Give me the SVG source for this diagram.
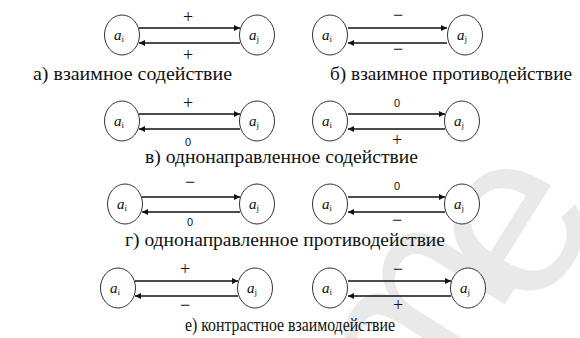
<svg xmlns="http://www.w3.org/2000/svg" width="580" height="338" viewBox="0 0 580 338">
  <style>
    .node { fill: #fff; stroke: #333; stroke-width: 1; }
    .var { font-style: italic; font-size: 15px; fill: #111; }
    .sub { font-style: normal; font-size: 9px; }
    .edge { stroke: #111; stroke-width: 1.4; fill: none; }
    .sign { font-size: 18px; fill: #111; text-anchor: middle; }
    .zero { font-size: 11px; fill: #111; text-anchor: middle; }
    .caption { font-size: 18px; fill: #111; }
    .mark { font-size: 235px; fill: #e9e9e9; }
  </style>
  <defs>
    <marker id="head" viewBox="0 0 10 10" refX="10" refY="5" markerWidth="6" markerHeight="6" markerUnits="userSpaceOnUse" orient="auto">
      <path d="M0,0 L10,5 L0,10 z" fill="#111"/>
    </marker>
  </defs>
  <rect width="580" height="338" fill="#fff"/>

  <!-- background mark -->
  <g id="mark" font-family="'Liberation Sans', sans-serif">
    <text class="mark" x="0" y="0" transform="translate(420,440) rotate(-58)">m</text>
    <text class="mark" x="0" y="0" transform="translate(536,318) rotate(-58)">e</text>
  </g>

  <!-- connectors -->
  <g id="connectors" font-family="'Times New Roman', 'Liberation Serif', 'DejaVu Serif', serif">
    <g id="pair-a">
      <line class="edge" x1="139" y1="28" x2="240" y2="28" marker-end="url(#head)"/>
      <line class="edge" x1="240" y1="43" x2="139" y2="43" marker-end="url(#head)"/>
      <text class="sign" x="188" y="23">+</text>
      <text class="sign" x="188" y="61">+</text>
    </g>
    <g id="pair-b">
      <line class="edge" x1="348" y1="28" x2="447" y2="28" marker-end="url(#head)"/>
      <line class="edge" x1="447" y1="43" x2="348" y2="43" marker-end="url(#head)"/>
      <text class="sign" x="398" y="21">−</text>
      <text class="sign" x="398" y="55">−</text>
    </g>
    <g id="pair-c">
      <line class="edge" x1="139" y1="114" x2="240" y2="114" marker-end="url(#head)"/>
      <line class="edge" x1="240" y1="129" x2="139" y2="129" marker-end="url(#head)"/>
      <text class="sign" x="188" y="109">+</text>
      <text class="zero" font-family="'Liberation Sans', sans-serif" x="188" y="146">0</text>
    </g>
    <g id="pair-d">
      <line class="edge" x1="348" y1="114" x2="445" y2="114" marker-end="url(#head)"/>
      <line class="edge" x1="445" y1="129" x2="348" y2="129" marker-end="url(#head)"/>
      <text class="zero" font-family="'Liberation Sans', sans-serif" x="397" y="107">0</text>
      <text class="sign" x="397" y="146">+</text>
    </g>
    <g id="pair-e">
      <line class="edge" x1="142" y1="197" x2="240" y2="197" marker-end="url(#head)"/>
      <line class="edge" x1="240" y1="212" x2="142" y2="212" marker-end="url(#head)"/>
      <text class="sign" x="190" y="188">−</text>
      <text class="zero" font-family="'Liberation Sans', sans-serif" x="190" y="226">0</text>
    </g>
    <g id="pair-f">
      <line class="edge" x1="348" y1="197" x2="445" y2="197" marker-end="url(#head)"/>
      <line class="edge" x1="445" y1="212" x2="348" y2="212" marker-end="url(#head)"/>
      <text class="zero" font-family="'Liberation Sans', sans-serif" x="397" y="190">0</text>
      <text class="sign" x="397" y="226">−</text>
    </g>
    <g id="pair-g">
      <line class="edge" x1="135" y1="281" x2="238" y2="281" marker-end="url(#head)"/>
      <line class="edge" x1="238" y1="296" x2="135" y2="296" marker-end="url(#head)"/>
      <text class="sign" x="185" y="275">+</text>
      <text class="sign" x="185" y="311">−</text>
    </g>
    <g id="pair-h">
      <line class="edge" x1="348" y1="281" x2="451" y2="281" marker-end="url(#head)"/>
      <line class="edge" x1="451" y1="296" x2="348" y2="296" marker-end="url(#head)"/>
      <text class="sign" x="398" y="275">−</text>
      <text class="sign" x="398" y="311">+</text>
    </g>
  </g>

  <!-- nodes -->
  <g id="nodes" font-family="'Times New Roman', 'Liberation Serif', 'DejaVu Serif', serif">
    <g id="a-ai"><ellipse class="node" cx="122" cy="35" rx="17.5" ry="20"/><text class="var" x="114" y="40">a<tspan class="sub" dy="2">i</tspan></text></g>
    <g id="a-aj"><ellipse class="node" cx="257" cy="35" rx="17.5" ry="20"/><text class="var" x="249" y="40">a<tspan class="sub" dy="2">j</tspan></text></g>
    <g id="b-ai"><ellipse class="node" cx="330" cy="35" rx="17.5" ry="20"/><text class="var" x="322" y="40">a<tspan class="sub" dy="2">i</tspan></text></g>
    <g id="b-aj"><ellipse class="node" cx="465" cy="35" rx="17.5" ry="20"/><text class="var" x="457" y="40">a<tspan class="sub" dy="2">j</tspan></text></g>

    <g id="c-ai"><ellipse class="node" cx="122" cy="121" rx="17.5" ry="20"/><text class="var" x="114" y="126">a<tspan class="sub" dy="2">i</tspan></text></g>
    <g id="c-aj"><ellipse class="node" cx="257" cy="121" rx="17.5" ry="20"/><text class="var" x="249" y="126">a<tspan class="sub" dy="2">j</tspan></text></g>
    <g id="d-ai"><ellipse class="node" cx="330" cy="121" rx="17.5" ry="20"/><text class="var" x="322" y="126">a<tspan class="sub" dy="2">i</tspan></text></g>
    <g id="d-aj"><ellipse class="node" cx="462" cy="121" rx="17.5" ry="20"/><text class="var" x="454" y="126">a<tspan class="sub" dy="2">j</tspan></text></g>

    <g id="e-ai"><ellipse class="node" cx="125" cy="204" rx="17.5" ry="20"/><text class="var" x="117" y="209">a<tspan class="sub" dy="2">i</tspan></text></g>
    <g id="e-aj"><ellipse class="node" cx="257" cy="204" rx="17.5" ry="20"/><text class="var" x="249" y="209">a<tspan class="sub" dy="2">j</tspan></text></g>
    <g id="f-ai"><ellipse class="node" cx="330" cy="204" rx="17.5" ry="20"/><text class="var" x="322" y="209">a<tspan class="sub" dy="2">i</tspan></text></g>
    <g id="f-aj"><ellipse class="node" cx="462" cy="204" rx="17.5" ry="20"/><text class="var" x="454" y="209">a<tspan class="sub" dy="2">j</tspan></text></g>

    <g id="g-ai"><ellipse class="node" cx="118" cy="288" rx="17.5" ry="20"/><text class="var" x="110" y="293">a<tspan class="sub" dy="2">i</tspan></text></g>
    <g id="g-aj"><ellipse class="node" cx="255" cy="288" rx="17.5" ry="20"/><text class="var" x="247" y="293">a<tspan class="sub" dy="2">j</tspan></text></g>
    <g id="h-ai"><ellipse class="node" cx="330" cy="288" rx="17.5" ry="20"/><text class="var" x="322" y="293">a<tspan class="sub" dy="2">i</tspan></text></g>
    <g id="h-aj"><ellipse class="node" cx="468" cy="288" rx="17.5" ry="20"/><text class="var" x="460" y="293">a<tspan class="sub" dy="2">j</tspan></text></g>
  </g>

  <!-- captions -->
  <g id="captions" font-family="'Times New Roman', 'Liberation Serif', 'DejaVu Serif', serif">
    <text class="caption" x="33" y="80" textLength="199" lengthAdjust="spacingAndGlyphs">а)  взаимное содействие</text>
    <text class="caption" x="330" y="80" textLength="242" lengthAdjust="spacingAndGlyphs">б) взаимное противодействие</text>
    <text class="caption" x="145" y="163" textLength="273" lengthAdjust="spacingAndGlyphs">в) однонаправленное содействие</text>
    <text class="caption" x="125" y="246" textLength="320" lengthAdjust="spacingAndGlyphs">г) однонаправленное противодействие</text>
    <text class="caption" x="185" y="331" textLength="210" lengthAdjust="spacingAndGlyphs">е) контрастное взаимодействие</text>
  </g>
</svg>
